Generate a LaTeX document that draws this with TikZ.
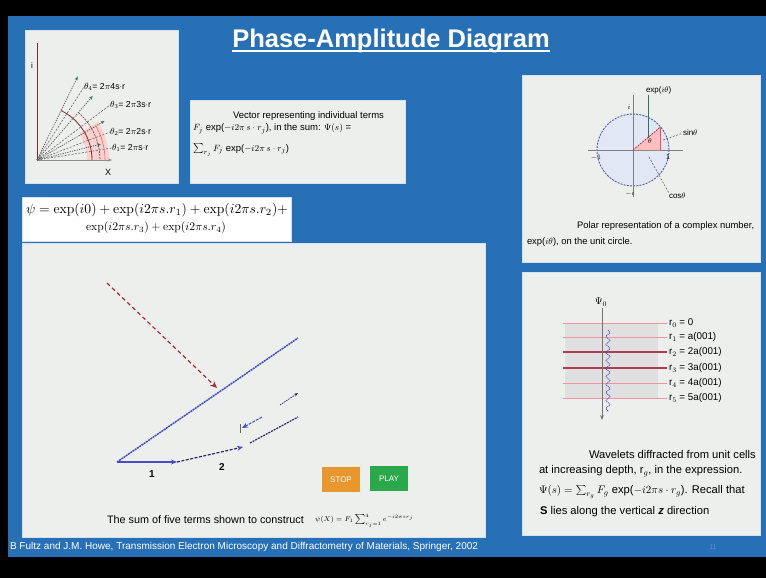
\documentclass[tikz,border=0pt]{standalone}
\usepackage[no-math]{fontspec}
\usepackage{graphicx}
\setmainfont{Liberation Sans}
\usetikzlibrary{arrows.meta,decorations.pathmorphing}
\definecolor{slideblue}{RGB}{40,112,182}
\definecolor{boxgray}{RGB}{237,239,236}
\definecolor{axisred}{RGB}{125,45,45}
\definecolor{raygreen}{RGB}{40,120,80}
\definecolor{dashred}{RGB}{165,45,60}
\definecolor{vecblue}{RGB}{75,75,200}
\definecolor{navy}{RGB}{40,40,110}
\definecolor{stoporange}{RGB}{232,150,46}
\definecolor{playgreen}{RGB}{43,168,74}
\definecolor{linepink}{RGB}{235,150,160}
\definecolor{linered}{RGB}{175,60,80}
\definecolor{circfill}{RGB}{226,231,245}
\definecolor{circline}{RGB}{80,90,160}
\definecolor{pagenum}{RGB}{95,145,205}
\begin{document}
\begin{tikzpicture}[x=1pt,y=-1pt,
  every node/.style={inner sep=0pt,outer sep=0pt},
  panel/.style={fill=boxgray,draw=white!80!slideblue,line width=0.8pt},
  small/.style={font=\fontsize{8.7}{10}\selectfont},
  captext/.style={font=\fontsize{9.4}{11}\selectfont},
  wavetext/.style={font=\fontsize{11.2}{13}\selectfont},
  rlabel/.style={font=\fontsize{9.8}{11}\selectfont,anchor=west},
  ray/.style={draw=black!70,line width=0.7pt,dash pattern=on 1.2pt off 1.2pt,-{Stealth[length=4pt,width=3pt,color=raygreen]}},
  leader/.style={draw=black!60,line width=0.6pt,dash pattern=on 2pt off 1.5pt},
  btn/.style={minimum width=38pt,minimum height=25pt,text=white,font=\fontsize{8}{9}\selectfont}
]
\useasboundingbox (0,0) rectangle (766,578);
\fill[black] (0,0) rectangle (766,578);
\fill[slideblue] (8,16) rectangle (766,557);

% title
\node[text=white,font=\fontsize{25.5}{30}\bfseries\selectfont,anchor=base] (title) at (391,48) {Phase-Amplitude Diagram};
\draw[white,line width=1.3pt] ([yshift=-3pt]title.base west) -- ([yshift=-3pt]title.base east);

% ---------- top-left panel
\path[panel] (25,30) rectangle (178,183);
\coordinate (o) at (37,160);
\fill[red!25,opacity=0.6] (o) ++(0:50) arc[start angle=0,end angle=-32,radius=50] -- ++(-32:22) arc[start angle=-32,end angle=0,radius=72] -- cycle;
\draw[axisred,line width=1pt] (o) -- (37,43);
\draw[black!45,line width=0.8pt,-{Stealth[length=4pt]}] (o) -- (112,160);
\node[font=\fontsize{8}{9}\selectfont] (ilab) at (32,66) {i};
\node[font=\fontsize{9}{10}\selectfont] (xlab) at (108,172) {X};
\draw[axisred,line width=0.8pt] (o) ++(-64:55) arc[start angle=-64,end angle=0,radius=55];
\draw[axisred,line width=0.6pt,dash pattern=on 2pt off 1pt] (o) ++(-49:63) arc[start angle=-49,end angle=0,radius=63];
\draw[red!60,line width=0.6pt] (o) ++(-30:68) arc[start angle=-30,end angle=0,radius=68];
\draw[ray] (o) -- ++(-64:93);
\draw[ray] (o) -- ++(-49:85);
\draw[ray] (o) -- ++(-30:78);
\draw[ray] (o) -- ++(-14:66);
\node[small,anchor=west] (t4) at (84,87) {$\theta_4$= 2$\pi$4s$\cdot$r};
\node[small,anchor=west] (t3) at (110,105) {$\theta_3$= 2$\pi$3s$\cdot$r};
\node[small,anchor=west] (t2) at (110,132) {$\theta_2$= 2$\pi$2s$\cdot$r};
\node[small,anchor=west] (t1) at (112,148) {$\theta_1$= 2$\pi$s$\cdot$r};
\draw[leader] (o) -- (t4.west);
\draw[leader] (o) -- (t3.west);
\draw[leader] (o) -- (t2.west);
\draw[leader] (o) -- (t1.west);

% ---------- text panel
\path[panel] (190,100) rectangle (405,183);
\node[anchor=west,font=\fontsize{9.5}{11}\selectfont] (v1) at (233,116) {Vector representing individual terms};
\node[anchor=west,font=\fontsize{9.5}{11}\selectfont] (v2) at (193,129) {$F_j$ exp($-i2\pi\, s\cdot r_j$), in the sum: $\Psi(s)$ =};
\node[anchor=west,font=\fontsize{9.5}{11}\selectfont] (v3) at (193,150) {$\sum_{r_j} F_j$ exp($-i2\pi\, s\cdot r_j$)};

% ---------- equation panel
\path[fill=white,draw=white!80!slideblue,line width=0.8pt] (22,197) rectangle (291,241);
\node[anchor=west] (eq1) at (26,210) {\resizebox{262pt}{!}{$\psi = \exp(i0) + \exp(i2\pi s.r_1) + \exp(i2\pi s.r_2) +$}};
\node (eq2) at (156,228) {\resizebox{140pt}{!}{$\exp(i2\pi s.r_3) + \exp(i2\pi s.r_4)$}};

% ---------- main panel
\path[panel] (22,243) rectangle (485,537);
\coordinate (p0) at (117,462);
\coordinate (p1) at (177,462);
\coordinate (p2) at (243,447);
\coordinate (q0) at (250,443);
\coordinate (q1) at (298,417);
\coordinate (big) at (298,338);
\coordinate (rs) at (107,283);
\coordinate (re) at (217,388);
\draw[dashred,line width=1.2pt,dash pattern=on 4pt off 3pt,-{Stealth[length=7pt,width=6pt]}] (rs) -- (re);
\draw[vecblue,line width=1.5pt,dash pattern=on 2pt off 0.7pt] (p0) -- (big);
\draw[vecblue,line width=1.4pt,-{Stealth[length=6pt,width=5pt]}] (p0) -- (p1);
\draw[navy,line width=1.2pt,dash pattern=on 3pt off 1.5pt,-{Stealth[length=6pt,width=5pt,color=vecblue]}] (p1) -- (p2);
\draw[navy,line width=1.2pt,dash pattern=on 2pt off 1pt] (q0) -- (q1);
\coordinate (s0) at (262,417);
\coordinate (s1) at (242,428);
\draw[vecblue,line width=1pt,dash pattern=on 3pt off 1pt,-{Stealth[length=6pt,width=5pt]}] (s0) -- (s1);
\draw[black!60,line width=0.6pt] (240,424) -- (240,433);
\coordinate (d0) at (280,405);
\coordinate (d1) at (298,393);
\draw[navy,line width=0.8pt,dash pattern=on 1.5pt off 1pt,-{Stealth[length=4pt,width=3pt]}] (d0) -- (d1);
\node[font=\fontsize{10}{11}\bfseries\selectfont] (n1) at (152,474) {1};
\node[font=\fontsize{10}{11}\bfseries\selectfont] (n2) at (222,467) {2};
\node[btn,fill=stoporange] (stop) at (341,479.5) {STOP};
\node[btn,fill=playgreen] (play) at (389,478.5) {PLAY};
\node[anchor=west,font=\fontsize{10.8}{12}\selectfont] (sumtxt) at (107,520) {The sum of five terms shown to construct};
\node[anchor=west,font=\fontsize{7.5}{8}\selectfont] (sumeq) at (315,521) {$\psi(X) = F_1\sum_{r_j=1}^{4} e^{-i2\pi s r_j}$};

% ---------- right top panel
\path[panel] (522,75) rectangle (760,262);
\coordinate (c) at (633,150);
\draw[circline,fill=circfill,line width=0.9pt,dash pattern=on 2pt off 1.2pt] (c) circle[radius=36];
\draw[black!50,line width=0.6pt] (588,150) -- (683,150);
\draw[black!50,line width=0.6pt] (633,95) -- (633,197);
\coordinate (pt) at (660.6,126.9);
\coordinate (ft) at (660.6,150);
\fill[red!25] (c) -- (pt) -- (ft) -- cycle;
\draw[dashred,line width=0.7pt,dash pattern=on 2pt off 1pt] (c) -- (pt);
\draw[red!70,line width=0.7pt] (pt) -- (ft);
\node[font=\fontsize{7}{8}\selectfont] (ci) at (629,107) {$i$};
\node[font=\fontsize{7}{8}\selectfont] (cmi) at (630,194) {$-i$};
\node[font=\fontsize{7}{8}\selectfont] (cm1) at (596,158) {$-1$};
\node[font=\fontsize{7}{8}\selectfont] (c1) at (668,157) {1};
\node[font=\fontsize{7}{8}\selectfont] (cth) at (650,141) {$\theta$};
\node[anchor=west,font=\fontsize{8}{9}\selectfont] (expl) at (646,90) {exp($i\theta$)};
\draw[raygreen,line width=0.6pt] (648,95) -- (648,138);
\node[anchor=west,font=\fontsize{8}{9}\selectfont] (sinl) at (683,133) {sin$\theta$};
\draw[leader] (663,140) -- (sinl.west);
\node[anchor=west,font=\fontsize{8}{9}\selectfont] (cosl) at (669,196) {cos$\theta$};
\draw[leader] (649,157) -- (cosl.north west);
\node[anchor=west,captext] (pc1) at (577,226) {Polar representation of a complex number,};
\node[anchor=west,captext] (pc2) at (527,242) {exp($i\theta$), on the unit circle.};

% ---------- right bottom panel
\path[panel] (522,272) rectangle (760,535);
\fill[black!12] (565,323) rectangle (658,398);
\foreach \yy in {323,337,383,398} \draw[linepink,line width=1pt] (563,\yy) -- (667,\yy);
\foreach \yy in {352,368} \draw[linered,line width=1.3pt] (563,\yy) -- (667,\yy);
\draw[black!55,line width=0.8pt,-{Stealth[length=5pt]}] (602,308) -- (602,420);
\node[font=\fontsize{10}{11}\selectfont] (psi) at (601,302) {$\Psi_0$};
\draw[vecblue,line width=0.8pt,dash pattern=on 1pt off 0.8pt,decorate,decoration={snake,amplitude=2pt,segment length=8pt}] (608,330) -- (608,412);
\node[rlabel] (r0) at (669,323) {r$_0$ = 0};
\node[rlabel] (r1) at (669,337) {r$_1$ = a(001)};
\node[rlabel] (r2) at (669,352) {r$_2$ = 2a(001)};
\node[rlabel] (r3) at (669,368) {r$_3$ = 3a(001)};
\node[rlabel] (r4) at (669,383) {r$_4$ = 4a(001)};
\node[rlabel] (r5) at (669,398) {r$_5$ = 5a(001)};
\node[anchor=west,wavetext] (w1) at (589,454) {Wavelets diffracted from unit cells};
\node[anchor=west,wavetext] (w2) at (539,471) {at increasing depth, r$_g$, in the expression.};
\node[anchor=west,wavetext] (w3) at (539,492) {$\Psi(s) = \sum_{r_g} F_g$ exp($-i2\pi s\cdot r_g$). Recall that};
\node[anchor=west,wavetext] (w4) at (540,512) {\textbf{S} lies along the vertical \textbf{\textit{z}} direction};

% ---------- footer
\node[anchor=west,text=white] (foot) at (10,547) {\resizebox{468pt}{!}{B Fultz and J.M. Howe, Transmission Electron Microscopy and Diffractometry of Materials, Springer, 2002}};
\node[text=pagenum,font=\fontsize{7}{8}\selectfont] (pg) at (713,547) {11};
\end{tikzpicture}
\end{document}
